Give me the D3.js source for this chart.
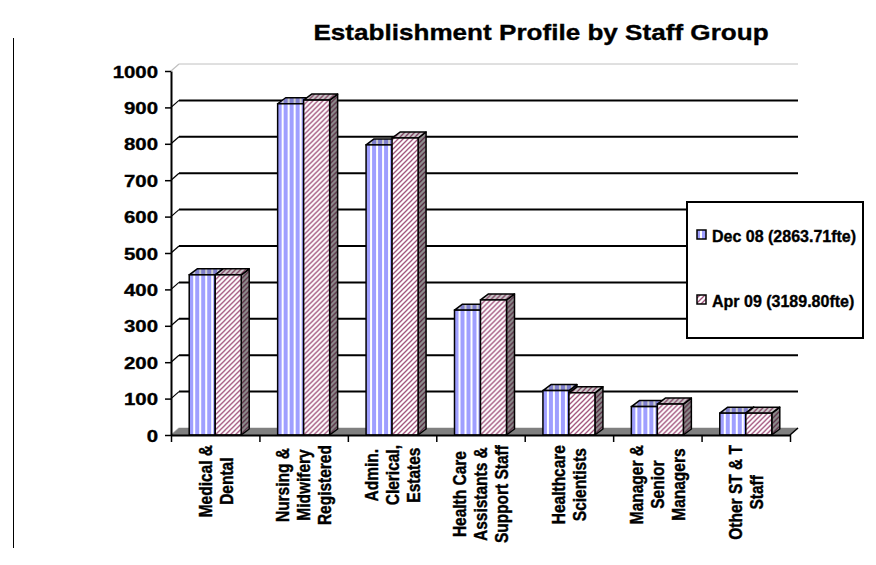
<!DOCTYPE html>
<html lang="en">
<head>
<meta charset="UTF-8">
<title>Establishment Profile by Staff Group</title>
<style>
    body { margin: 0; background: #fff; }
    svg { display: block; }
    text { font-family: "Liberation Sans", Arial, sans-serif; font-weight: bold; fill: #000; stroke: #000; stroke-width: 0.35px; }
</style>
</head>
<body>
<div id="chart"></div>
<script src="https://cdnjs.cloudflare.com/ajax/libs/d3/7.8.5/d3.min.js"></script>
<script>
// data
const categories = ["Medical & Dental", "Nursing & Midwifery Registered", "Admin. Clerical, Estates",
    "Health Care Assistants & Support Staff", "Healthcare Scientists", "Manager & Senior Managers", "Other ST & T Staff"];
const categoryLines = [
    ["Medical &", "Dental"],
    ["Nursing &", "Midwifery", "Registered"],
    ["Admin.", "Clerical,", "Estates"],
    ["Health Care", "Assistants &", "Support Staff"],
    ["Healthcare", "Scientists"],
    ["Manager &", "Senior", "Managers"],
    ["Other ST & T", "Staff"]
];
const seriesNames = ["Dec 08 (2863.71fte)", "Apr 09 (3189.80fte)"];
const dec08 = [440, 910, 797, 343, 122, 78, 60];
const apr09 = [440, 920, 816, 371, 116, 85, 60];
const yTicks = [0, 100, 200, 300, 400, 500, 600, 700, 800, 900, 1000];

const W = 876, H = 565;
const left = 171, right = 790, y0 = 435, yTop = 71;
const wallDx = 8, wallDy = -7;   // back wall offset
const barDx = 8, barDy = -6;     // bar depth
const sx = 1.22;                 // text in the picture is a little wide

const svg = d3.select("#chart").append("svg")
    .attr("width", W).attr("height", H);

const defs = svg.append("defs");
const stripes = defs.append("pattern")
    .attr("id", "stripes").attr("patternUnits", "userSpaceOnUse")
    .attr("width", 6).attr("height", 6);
stripes.append("rect").attr("width", 6).attr("height", 6).attr("fill", "#fff");
stripes.append("rect").attr("width", 4).attr("height", 6).attr("fill", "#9f9fff");

const hatch = defs.append("pattern")
    .attr("id", "hatch").attr("patternUnits", "userSpaceOnUse")
    .attr("width", 5).attr("height", 5);
hatch.append("rect").attr("width", 5).attr("height", 5).attr("fill", "#fff");
hatch.append("path").attr("d", "M-1,6 L6,-1 M-1,1 L1,-1 M4,6 L6,4")
    .attr("stroke", "#a0507a").attr("stroke-width", 1.3);

const fills = ["url(#stripes)", "url(#hatch)"];

// left frame line
svg.append("line")
    .attr("x1", 13.5).attr("x2", 13.5).attr("y1", 38).attr("y2", 548)
    .attr("stroke", "#000").attr("stroke-width", 1);

// title
svg.append("text")
    .attr("transform", `translate(541,40) scale(1.16,1)`)
    .attr("text-anchor", "middle")
    .style("font-size", "22.5px")
    .text("Establishment Profile by Staff Group");

const y = d3.scaleLinear().domain([0, 1000]).range([y0, yTop]);
const x = d3.scaleBand().domain(categories).range([left, right]).paddingInner(0).paddingOuter(0);
const pairW = 52;
const x1 = d3.scaleBand().domain(seriesNames).range([0, pairW]);
const xEdge = d3.scaleLinear().domain([0, categories.length]).range([left, right]);

// back wall gridlines
svg.append("g").selectAll("line")
    .data(yTicks)
    .join("line")
    .attr("x1", left + wallDx).attr("x2", right + wallDx)
    .attr("y1", d => y(d) + wallDy).attr("y2", d => y(d) + wallDy)
    .attr("stroke", d => (d === 0 || d === 1000) ? "#c0c0c0" : "#000")
    .attr("stroke-width", d => (d === 0 || d === 1000) ? 1 : 2);

// side wall diagonals
svg.append("g").selectAll("line")
    .data(yTicks)
    .join("line")
    .attr("x1", left).attr("x2", left + wallDx)
    .attr("y1", d => y(d)).attr("y2", d => y(d) + wallDy)
    .attr("stroke", d => (d === 0 || d === 1000) ? "#c0c0c0" : "#000")
    .attr("stroke-width", 1.2);

// floor
svg.append("path")
    .attr("d", `M${left},${y0} L${right},${y0} L${right + wallDx},${y0 + wallDy} L${left + wallDx},${y0 + wallDy} Z`)
    .attr("fill", "#808080");
svg.append("line")
    .attr("x1", right).attr("y1", y0).attr("x2", right + wallDx).attr("y2", y0 + wallDy)
    .attr("stroke", "#000").attr("stroke-width", 1.5);

// bars
const rows = [];
categories.forEach((c, i) => {
    [dec08[i], apr09[i]].forEach((v, s) => rows.push({ c, s, v }));
});
const bw = x1.bandwidth();
const bars = svg.append("g").selectAll("g")
    .data(rows)
    .join("g")
    .attr("transform", d => `translate(${x(d.c) + (x.bandwidth() - pairW) / 2 + x1(seriesNames[d.s])},0)`);

function sidePath(d) {
    const t = y(d.v);
    return `M${bw},${t} L${bw + barDx},${t + barDy} L${bw + barDx},${y0 + barDy} L${bw},${y0} Z`;
}
function topPath(d) {
    const t = y(d.v);
    return `M0,${t} L${barDx},${t + barDy} L${bw + barDx},${t + barDy} L${bw},${t} Z`;
}
bars.append("path").attr("d", sidePath).attr("fill", d => fills[d.s]);
bars.append("path").attr("d", sidePath).attr("fill", "#000").attr("fill-opacity", 0.45)
    .attr("stroke", "#000").attr("stroke-width", 1.5).attr("stroke-linejoin", "round");
bars.append("path").attr("d", topPath).attr("fill", d => fills[d.s]);
bars.append("path").attr("d", topPath).attr("fill", "#000").attr("fill-opacity", 0.2)
    .attr("stroke", "#000").attr("stroke-width", 1.5).attr("stroke-linejoin", "round");
bars.append("rect")
    .attr("x", 0).attr("y", d => y(d.v))
    .attr("width", bw).attr("height", d => y0 - y(d.v))
    .attr("fill", d => fills[d.s])
    .attr("stroke", "#000").attr("stroke-width", 1.5);

// y axis
const yAxis = svg.append("g")
    .attr("transform", `translate(${left},0)`)
    .call(d3.axisLeft(y).tickValues(yTicks).tickFormat(d3.format("d")).tickSize(6).tickSizeOuter(0));
yAxis.select(".domain").attr("stroke-width", 2);
yAxis.selectAll(".tick line").attr("stroke-width", 1.5);
yAxis.selectAll(".tick text")
    .attr("x", null).attr("dy", "0.36em")
    .attr("transform", `translate(-13,0) scale(1.2,1)`)
    .attr("font-family", null).attr("font-size", null)
    .style("font-size", "17px");

// x axis
const xAxis = svg.append("g")
    .attr("transform", `translate(0,${y0})`)
    .call(d3.axisBottom(xEdge).ticks(categories.length).tickFormat("").tickSize(7).tickSizeOuter(0));
xAxis.select(".domain").attr("stroke-width", 2);
xAxis.selectAll(".tick line").attr("stroke-width", 1.5);

// category labels, rotated, lines centred
const lineGap = 21;
const labTop = 445;
const labels = svg.append("g");
categoryLines.forEach((lines, i) => {
    const cx = x(categories[i]) + x.bandwidth() / 2;
    const g = labels.append("g");
    const texts = g.selectAll("text")
        .data(lines)
        .join("text")
        .attr("text-anchor", "middle")
        .attr("dy", "0.36em")
        .style("font-size", "15.5px")
        .text(d => d);
    let maxLen = 0;
    texts.each(function () { maxLen = Math.max(maxLen, this.getComputedTextLength()); });
    texts.attr("transform", (d, j) =>
        `translate(${cx + (j - (lines.length - 1) / 2) * lineGap},${labTop + maxLen / 2}) scale(${sx},1) rotate(-90)`);
});

// legend
const legend = svg.append("g");
legend.append("rect")
    .attr("x", 687).attr("y", 202).attr("width", 176).attr("height", 136)
    .attr("fill", "#fff").attr("stroke", "#000").attr("stroke-width", 2);
const legendY = d3.scalePoint().domain(seriesNames).range([242, 307]);
const items = legend.selectAll(".item")
    .data(seriesNames)
    .join("g")
    .attr("class", "item");
items.append("rect")
    .attr("x", 697).attr("y", d => legendY(d) - 12)
    .attr("width", 9).attr("height", 9)
    .attr("fill", (d, i) => fills[i])
    .attr("stroke", "#000").attr("stroke-width", 1.5);
items.append("text")
    .attr("x", 712).attr("y", d => legendY(d))
    .style("font-size", "16px")
    .text(d => d);
</script>
</body>
</html>
